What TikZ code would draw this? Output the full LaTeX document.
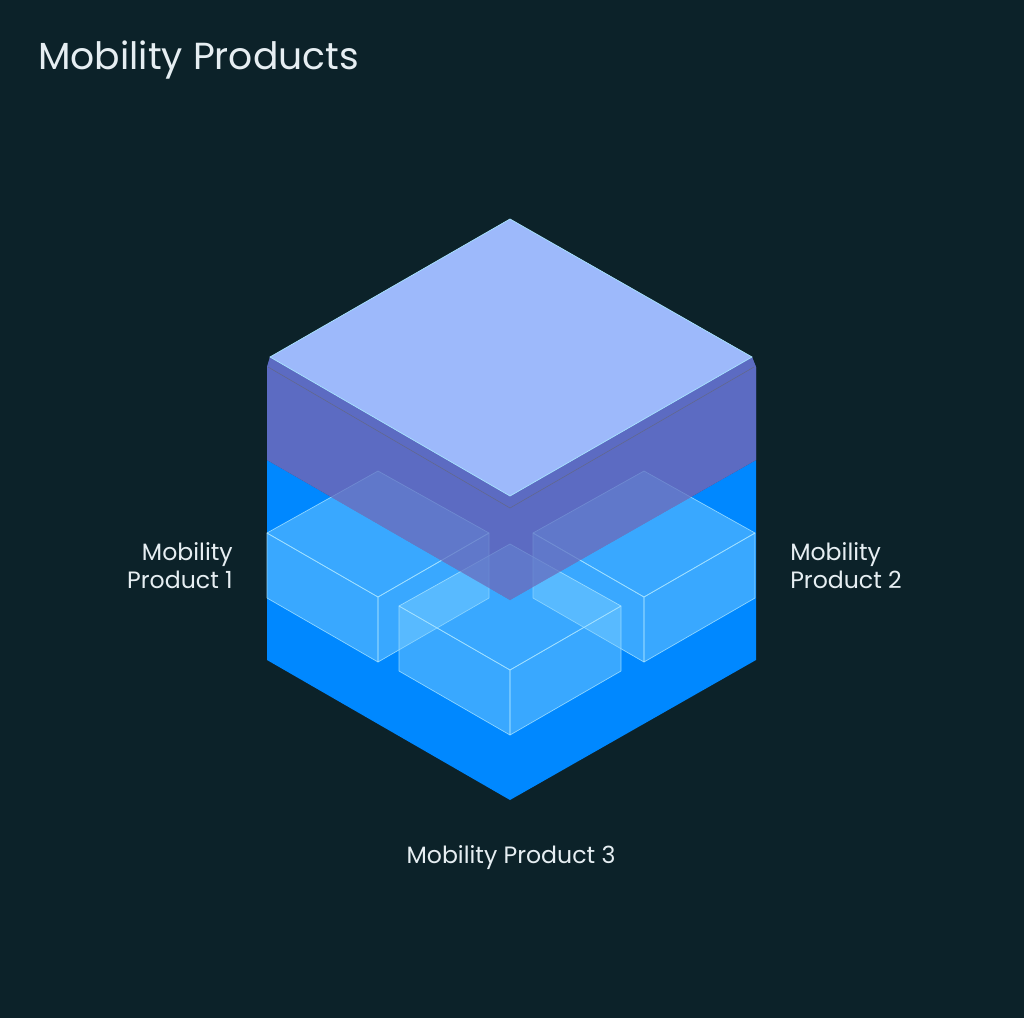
\documentclass[tikz,border=0pt]{standalone}
\usepackage{fontspec}
\setmainfont{Poppins}
\definecolor{bg}{HTML}{0C2229}
\definecolor{topf}{HTML}{9DB9FB}
\definecolor{purp}{HTML}{5C6BC2}
\definecolor{blu}{HTML}{0088FF}
\definecolor{boxf}{HTML}{7FD0FF}
\definecolor{boxe}{HTML}{A8E4FF}
\definecolor{txt}{HTML}{E6EEF2}
\begin{document}
\begin{tikzpicture}[x=0.25mm,y=-0.25mm,
  boxface/.style={fill=boxf,fill opacity=0.45,draw=boxe,draw opacity=0.8,line width=0.5pt,line join=round},
  lbl/.style={text=txt,font=\fontsize{16.8}{20}\selectfont,inner sep=0pt}]
\fill[bg] (0,0) rectangle (1024,1018);
\useasboundingbox (0,0) rectangle (1024,1018);
\node[anchor=west,text=txt,font=\fontsize{26.8}{32}\selectfont,inner sep=0pt] (title) at (38,60) {Mobility Products};
% blue body
\fill[blu] (267,460)--(510,600)--(756,460)--(756,660)--(510,800)--(267,660)--cycle;
% opaque purple base
\fill[purp] (270,357)--(510,496)--(752,357)--(756,367)--(756,460)--(510,600)--(267,460)--(267,367)--cycle;
% small boxes
\foreach \cx/\cy in {378/471,644/471,510/544}{
  \filldraw[boxface] (\cx-111,\cy+62)--(\cx,\cy+126)--(\cx,\cy+191)--(\cx-111,\cy+127)--cycle;
  \filldraw[boxface] (\cx,\cy+126)--(\cx+111,\cy+62)--(\cx+111,\cy+127)--(\cx,\cy+191)--cycle;
  \filldraw[boxface] (\cx,\cy)--(\cx+111,\cy+62)--(\cx,\cy+126)--(\cx-111,\cy+62)--cycle;
}
% translucent purple layer over boxes
\fill[purp,opacity=0.7] (270,357)--(510,496)--(752,357)--(756,367)--(756,460)--(510,600)--(267,460)--(267,367)--cycle;
\draw[black!60,line width=0.4pt,opacity=0.6] (268,367)--(510,508)--(754,367);
% top face
\filldraw[fill=topf,draw=boxe,line width=0.5pt] (510,219)--(752,357)--(510,496)--(270,357)--cycle;
% labels
\node[lbl,anchor=north east,align=right] (p1) at (233,542) {Mobility\\Product 1};
\node[lbl,anchor=north west,align=left] (p2) at (790,542) {Mobility\\Product 2};
\node[lbl,anchor=center] (p3) at (511,858) {Mobility Product 3};
\end{tikzpicture}
\end{document}
